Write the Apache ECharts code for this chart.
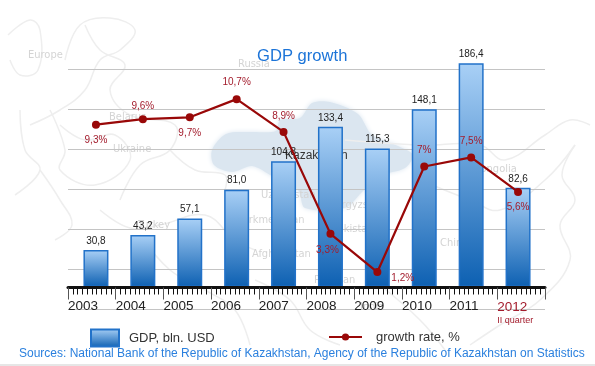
<!DOCTYPE html>
<html>
<head>
<meta charset="UTF-8">
<title>GDP growth</title>
<script src="https://cdn.jsdelivr.net/npm/echarts@6/dist/echarts.min.js"></script>
<style>
	html, body { margin: 0; padding: 0; background: #fff; }
	#chart { width: 595px; height: 366px; }
</style>
</head>
<body>
<div id="chart"></div>
<script type="text/javascript">
var years = ['2003', '2004', '2005', '2006', '2007', '2008', '2009', '2010', '2011', '2012'];
var gdp = [30.8, 43.2, 57.1, 81.0, 104.8, 133.4, 115.3, 148.1, 186.4, 82.6];
var growth = [9.3, 9.6, 9.7, 10.7, 8.9, 3.3, 1.2, 7, 7.5, 5.6];

var FONT = '"Liberation Sans", Arial, sans-serif';
var RED = '#a31c2c';

function comma(v, digits) {
	return (digits ? v.toFixed(digits) : String(v)).replace('.', ',');
}

// where each growth label sits relative to its point
var ratePlace = [
	{ position: 'bottom', distance: 7 },
	{ position: 'top', distance: 4 },
	{ position: 'bottom', distance: 7 },
	{ position: 'top', distance: 8 },
	{ position: 'top', distance: 7 },
	{ position: 'bottom', distance: 7, offset: [-3, 0] },
	{ position: 'right', distance: 5, offset: [5, 6] },
	{ position: 'top', distance: 7 },
	{ position: 'top', distance: 7 },
	{ position: 'bottom', distance: 6 }
];

var rateData = growth.map(function(v, i) {
	return { value: v, label: ratePlace[i] };
});

// faint map behind the chart
function mapLine(points) {
	return {
		type: 'polyline',
		z: -2,
		silent: true,
		shape: { points: points, smooth: 0.4 },
		style: { stroke: '#eeeeee', lineWidth: 1.5, fill: null }
	};
}

function mapText(text, x, y) {
	return {
		type: 'text',
		z: -1,
		silent: true,
		x: x,
		y: y,
		style: { text: text, fill: '#d4d4d4', font: '11px "DejaVu Sans Condensed", "DejaVu Sans", sans-serif' }
	};
}

var background = [
	{
		type: 'polygon',
		z: -2,
		silent: true,
		shape: {
			smooth: 0.3,
			points: [[212, 150], [226, 134], [250, 132], [276, 131], [280, 120], [300, 118], [312, 103], [330, 102], [358, 114], [372, 135], [398, 146], [413, 155], [405, 168], [380, 176], [362, 192], [345, 208], [305, 208], [298, 190], [272, 176], [252, 166], [232, 172], [214, 165]]
		},
		style: { fill: '#dbe6f0', shadowBlur: 5, shadowColor: '#dbe6f0' }
	},
	mapLine([[8, 35], [30, 20], [40, 30], [38, 70], [20, 75], [10, 60]]),
	mapLine([[65, 60], [80, 25], [110, 18], [135, 30], [120, 50], [100, 60], [85, 90], [60, 110], [30, 125]]),
	mapLine([[85, 25], [100, 50], [125, 65], [110, 90], [130, 115], [175, 125], [170, 150], [140, 165], [120, 200]]),
	mapLine([[20, 110], [25, 150], [40, 170], [15, 195]]),
	mapLine([[50, 110], [65, 150], [60, 170], [95, 185], [130, 160], [115, 135], [85, 140], [60, 125]]),
	mapLine([[40, 170], [60, 200], [72, 225], [55, 240]]),
	mapLine([[100, 210], [130, 228], [160, 225], [205, 215], [235, 240], [255, 250]]),
	mapLine([[170, 150], [195, 170], [225, 175], [225, 190]]),
	mapLine([[140, 235], [170, 270], [205, 290], [235, 310], [250, 345]]),
	mapLine([[255, 280], [290, 300], [310, 330], [340, 345]]),
	mapLine([[345, 140], [420, 145], [480, 145], [505, 160], [545, 135], [570, 120], [590, 125]]),
	mapLine([[420, 180], [470, 200], [500, 210], [545, 180], [575, 145]]),
	mapLine([[575, 145], [562, 175], [575, 200], [560, 225], [570, 260], [540, 300], [500, 325], [470, 345]]),
	mapLine([[380, 285], [420, 320], [445, 350]]),
	mapText('Europe', 28, 50),
	mapText('Russia', 238, 59),
	mapText('Belarus', 109, 112),
	mapText('Ukraine', 113, 144),
	mapText('Turkey', 138, 220),
	mapText('Uzbekistan', 261, 190),
	mapText('Turkmenistan', 238, 215),
	mapText('Kyrgyzstan', 330, 200),
	mapText('Tajikistan', 328, 224),
	mapText('Afghanistan', 252, 249),
	mapText('Pakistan', 314, 275),
	mapText('China', 440, 238),
	mapText('Mongolia', 472, 164),
	mapText('India', 360, 302),
	{
		type: 'text',
		z: -1,
		silent: true,
		x: 285,
		y: 150,
		style: { text: 'Kazakhstan', fill: '#333', font: '12px ' + FONT }
	},
	{
		type: 'rect',
		z: -1,
		silent: true,
		shape: { x: 0, y: 364, width: 595, height: 2 },
		style: { fill: '#e6e6e6' }
	}
];

var myChart = echarts.init(document.getElementById('chart'));

var option = {
	animation: false,
	backgroundColor: '#fff',
	title: [{
		text: 'GDP growth',
		left: 257,
		top: 48,
		padding: 0,
		textStyle: { color: '#1c74d8', fontSize: 16.6, fontWeight: 'normal', fontFamily: FONT }
	}, {
		text: 'Sources: National Bank of the Republic of Kazakhstan, Agency of the Republic of Kazakhstan on Statistics',
		left: 19,
		top: 348,
		padding: 0,
		textStyle: { color: '#2b80de', fontSize: 12, fontWeight: 'normal', fontFamily: FONT }
	}],
	legend: [{
		data: [{ name: 'GDP, bln. USD', icon: 'rect' }],
		left: 90,
		top: 328.5,
		padding: 0,
		itemWidth: 28,
		itemHeight: 17,
		itemGap: 0,
		textStyle: { color: '#333', fontSize: 13, fontFamily: FONT, padding: [0, 0, 0, 5] }
	}, {
		data: ['growth rate, %'],
		left: 328,
		top: 330.5,
		padding: 0,
		itemWidth: 33,
		itemHeight: 9,
		textStyle: { color: '#333', fontSize: 13, fontFamily: FONT, padding: [0, 0, 0, 9] }
	}],
	grid: [
		// bars and line
		{ left: 72.5, width: 469, top: 30, height: 278.6 },
		// gridlines and the ruler axis
		{ left: 68, width: 477, top: 69.5, height: 240 }
	],
	xAxis: [{
		type: 'category',
		gridIndex: 0,
		data: years,
		show: false
	}, {
		type: 'value',
		gridIndex: 1,
		min: 0,
		max: 10,
		interval: 1,
		offset: -22,
		z: 5,
		axisLine: { show: true, onZero: false, lineStyle: { color: '#111', width: 3 } },
		axisTick: { show: true, length: 12, lineStyle: { color: '#555', width: 1 } },
		minorTick: { show: true, splitNumber: 10, length: 7, lineStyle: { color: '#111', width: 1 } },
		splitLine: { show: false },
		axisLabel: {
			align: 'left',
			margin: 12,
			color: '#222',
			fontSize: 13.5,
			fontFamily: FONT,
			formatter: function(v) {
				if(v >= years.length) {
					return '';
				}
				return v == years.length - 1 ? '{last|' + years[v] + '}\n{note|II quarter}' : years[v];
			},
			rich: {
				last: { color: RED, fontSize: 13.5, fontFamily: FONT, lineHeight: 15 },
				note: { color: RED, fontSize: 9, fontFamily: FONT, lineHeight: 13 }
			}
		}
	}],
	yAxis: [{
		type: 'value',
		gridIndex: 0,
		min: -18,
		max: 214,
		show: false
	}, {
		type: 'value',
		gridIndex: 0,
		min: -0.81,
		max: 14.5,
		show: false
	}, {
		type: 'value',
		gridIndex: 1,
		min: 0,
		max: 6,
		interval: 1,
		axisLine: { show: false },
		axisTick: { show: false },
		axisLabel: { show: false },
		splitLine: { show: true, lineStyle: { color: '#c4c4c4', width: 1 } }
	}],
	series: [{
		name: 'GDP, bln. USD',
		type: 'bar',
		xAxisIndex: 0,
		yAxisIndex: 0,
		barWidth: 25,
		data: gdp,
		itemStyle: {
			borderColor: '#2272c9',
			borderWidth: 1.5,
			color: new echarts.graphic.LinearGradient(0, 0, 0, 1, [
				{ offset: 0, color: '#a9d0f6' },
				{ offset: 1, color: '#0d60b2' }
			])
		},
		label: {
			show: true,
			position: 'top',
			distance: 4,
			color: '#222',
			fontSize: 10,
			fontFamily: FONT,
			formatter: function(p) {
				return comma(p.value, 1);
			}
		}
	}, {
		name: 'growth rate, %',
		type: 'line',
		xAxisIndex: 0,
		yAxisIndex: 1,
		data: rateData,
		symbol: 'circle',
		symbolSize: 8,
		z: 4,
		lineStyle: { color: '#990808', width: 2.2 },
		itemStyle: { color: '#990808' },
		label: {
			show: true,
			color: RED,
			fontSize: 10,
			fontFamily: FONT,
			formatter: function(p) {
				return comma(p.value) + '%';
			}
		}
	}],
	graphic: background
};

myChart.setOption(option);
</script>
</body>
</html>
